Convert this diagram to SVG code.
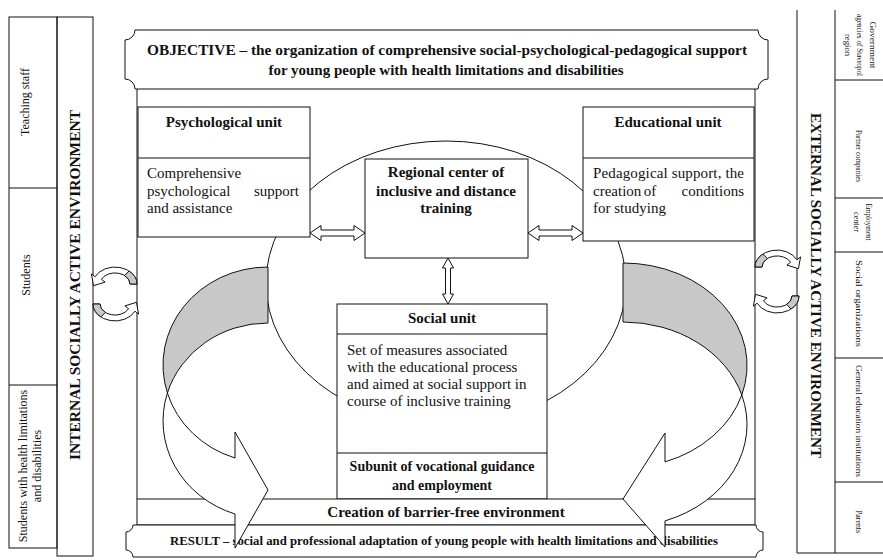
<svg xmlns="http://www.w3.org/2000/svg" width="883" height="560" viewBox="0 0 883 560">
<style>
.ln{fill:none;stroke:#111;stroke-width:1}
.bx{fill:#fff;stroke:#111;stroke-width:1}
.wh{fill:#fff;stroke:#111;stroke-width:1;stroke-linejoin:miter}
.gr{fill:#c8c8c8;stroke:#111;stroke-width:1}
text{font-family:"Liberation Serif","Times New Roman",serif;fill:#111}
.b{font-weight:bold}
.f15{font-size:15px}
.f12{font-size:12px}
.f9{font-size:9px}
.mid{text-anchor:middle}
</style>
<defs>
<g id="cyc">
<path class="wh" d="M137 284 A22 17 0 0 0 95.1 276.8 L91.4 273.9 L93.6 285.7 L105.1 282.1 L101.4 279.3 A15 11 0 0 1 130 284 Z"/>
<path class="gr" d="M137 284 A22 17 0 0 0 129.1 271 L124.6 275.6 A15 11 0 0 1 130 284 Z"/>
</g>
</defs>
<rect x="0" y="0" width="883" height="560" fill="#fff"/>

<g id="internal-environment">
<rect class="ln" x="9" y="17" width="48" height="531"/>
<line class="ln" x1="9" y1="188" x2="57" y2="188"/>
<line class="ln" x1="9" y1="385" x2="57" y2="385"/>
<rect class="ln" x="57" y="17" width="36" height="539"/>
<text class="f12 mid" transform="translate(29 102) rotate(-90)">Teaching staff</text>
<text class="f12 mid" transform="translate(30 275) rotate(-90)">Students</text>
<text class="f12 mid" transform="translate(27 466) rotate(-90)">Students with health limitations</text>
<text class="f12 mid" transform="translate(41 466) rotate(-90)">and disabilities</text>
<text class="b f15" transform="translate(80 460) rotate(-90)" textLength="350" lengthAdjust="spacingAndGlyphs">INTERNAL SOCIALLY ACTIVE ENVIRONMENT</text>
</g>

<g id="external-environment">
<line class="ln" x1="797" y1="10" x2="797" y2="553"/>
<line class="ln" x1="835" y1="10" x2="835" y2="553"/>
<line class="ln" x1="797" y1="553" x2="883" y2="553"/>
<line class="ln" x1="835" y1="80" x2="883" y2="80"/>
<line class="ln" x1="835" y1="198" x2="883" y2="198"/>
<line class="ln" x1="835" y1="252" x2="883" y2="252"/>
<line class="ln" x1="835" y1="358" x2="883" y2="358"/>
<line class="ln" x1="835" y1="482" x2="883" y2="482"/>
<text class="b f15" transform="translate(811 113) rotate(90)" textLength="345" lengthAdjust="spacingAndGlyphs">EXTERNAL SOCIALLY ACTIVE ENVIRONMENT</text>
<text class="f9" transform="translate(870 21.5) rotate(90)" textLength="47" lengthAdjust="spacingAndGlyphs">Government</text>
<text class="f9" transform="translate(857 14) rotate(90)" textLength="62" lengthAdjust="spacingAndGlyphs">agencies of Stavropol</text>
<text class="f9" transform="translate(845 34) rotate(90)" textLength="22" lengthAdjust="spacingAndGlyphs">region</text>
<text class="f9" transform="translate(856 130) rotate(90)" textLength="52" lengthAdjust="spacingAndGlyphs">Partner companies</text>
<text class="f9" transform="translate(866 203.5) rotate(90)" textLength="37" lengthAdjust="spacingAndGlyphs">Employment</text>
<text class="f9" transform="translate(854 212) rotate(90)" textLength="20" lengthAdjust="spacingAndGlyphs">center</text>
<text class="f9" transform="translate(856 260) rotate(90)" textLength="87" lengthAdjust="spacingAndGlyphs">Social organizations</text>
<text class="f9" transform="translate(856 365) rotate(90)" textLength="112" lengthAdjust="spacingAndGlyphs">General education institutions</text>
<text class="f9" transform="translate(856 510) rotate(90)" textLength="23" lengthAdjust="spacingAndGlyphs">Parents</text>
</g>

<g id="objective">
<path class="bx" d="M135 30 L758 30 A10 10 0 0 0 768 40 L768 79 A10 10 0 0 0 758 89 L135 89 A10 10 0 0 0 125 79 L125 40 A10 10 0 0 0 135 30 Z"/>
<text class="b f15" x="147" y="55" textLength="600" lengthAdjust="spacingAndGlyphs">OBJECTIVE – the organization of comprehensive social-psychological-pedagogical support</text>
<text class="b f15 mid" x="446" y="75">for young people with health limitations and disabilities</text>
</g>

<g id="frame">
<line class="ln" x1="137" y1="89" x2="137" y2="499"/>
<line class="ln" x1="755" y1="89" x2="755" y2="499"/>
<ellipse class="ln" cx="446" cy="283" rx="180" ry="142"/>
</g>

<g id="psychological-unit">
<rect class="bx" x="138" y="107" width="172" height="130"/>
<line class="ln" x1="138" y1="158" x2="310" y2="158"/>
<text class="b f15 mid" x="224" y="127">Psychological unit</text>
<text class="f15" x="147" y="178">Comprehensive</text>
<text class="f15" x="147" y="195.5">psychological</text>
<text class="f15" x="299" y="195.5" text-anchor="end">support</text>
<text class="f15" x="147" y="213">and assistance</text>
</g>

<g id="regional-center">
<rect class="bx" x="365" y="159" width="163" height="99"/>
<text class="b f15 mid" x="446" y="177">Regional center of</text>
<text class="b f15 mid" x="446" y="196">inclusive and distance</text>
<text class="b f15 mid" x="446" y="213">training</text>
</g>

<g id="educational-unit">
<rect class="bx" x="583" y="107" width="171" height="134"/>
<line class="ln" x1="583" y1="158" x2="754" y2="158"/>
<text class="b f15 mid" x="668" y="127">Educational unit</text>
<text class="f15" x="593" y="178" textLength="151" lengthAdjust="spacing">Pedagogical support, the</text>
<text class="f15" x="593" y="195.5">creation</text>
<text class="f15 mid" x="650" y="195.5">of</text>
<text class="f15" x="744" y="195.5" text-anchor="end">conditions</text>
<text class="f15" x="593" y="213">for studying</text>
</g>

<g id="social-unit">
<rect class="bx" x="337" y="304" width="210" height="195"/>
<line class="ln" x1="337" y1="334" x2="547" y2="334"/>
<line class="ln" x1="337" y1="453" x2="547" y2="453"/>
<text class="b f15 mid" x="442" y="323">Social unit</text>
<text class="f15" x="347" y="355">Set of measures associated</text>
<text class="f15" x="347" y="372">with the educational process</text>
<text class="f15" x="347" y="389">and aimed at social support in</text>
<text class="f15" x="347" y="406">course of inclusive training</text>
<text class="b mid" font-size="14" x="442" y="471">Subunit of vocational guidance</text>
<text class="b mid" font-size="14" x="442" y="490">and employment</text>
</g>

<g id="barrier-free">
<rect class="bx" x="137" y="499" width="618" height="26"/>
<text class="b f15 mid" x="446" y="517">Creation of barrier-free environment</text>
</g>

<g id="result">
<path class="bx" d="M133 525 L756 525 A7 7 0 0 0 763 532 L763 550 A7 7 0 0 0 756 557 L133 557 A7 7 0 0 0 126 550 L126 532 A7 7 0 0 0 133 525 Z"/>
<text class="b" font-size="12.5" x="170" y="545" textLength="548" lengthAdjust="spacingAndGlyphs">RESULT – social and professional adaptation of young people with health limitations and disabilities</text>
</g>

<g id="connectors">
<path class="wh" d="M310 233 L321 225.5 L321 230 L354 230 L354 225.5 L365 233 L354 240.5 L354 236 L321 236 L321 240.5 Z"/>
<path class="wh" d="M528 233 L539 225.5 L539 230 L572 230 L572 225.5 L583 233 L572 240.5 L572 236 L539 236 L539 240.5 Z"/>
<path class="wh" d="M448 258 L453.5 268 L450.5 268 L450.5 294 L453.5 294 L448 304 L442.5 294 L445.5 294 L445.5 268 L442.5 268 Z"/>
<path class="gr" d="M268 267 A105 98 0 0 0 167.4 393 A105 98 0 0 1 268 323 Z"/>
<path class="wh" d="M167.4 393 A105 98 0 0 0 235 458 L235 432 L268 490 L235 548 L235 514 A105 98 0 0 1 167.4 393 Z"/>
<path class="gr" d="M623 263 A124 102.5 0 0 1 741.8 395 A124 102.5 0 0 0 623 322 Z"/>
<path class="wh" d="M741.8 395 A124 102.5 0 0 1 665 461.9 L665 433 L623 499 L665 547 L665 520.9 A124 102.5 0 0 0 741.8 395 Z"/>
<use href="#cyc"/>
<use href="#cyc" transform="rotate(180 115 294)"/>
<use href="#cyc" transform="translate(892 -17) scale(-1 1)"/>
<use href="#cyc" transform="translate(892 -8) scale(-1 1) rotate(180 115 294)"/>
</g>
</svg>
